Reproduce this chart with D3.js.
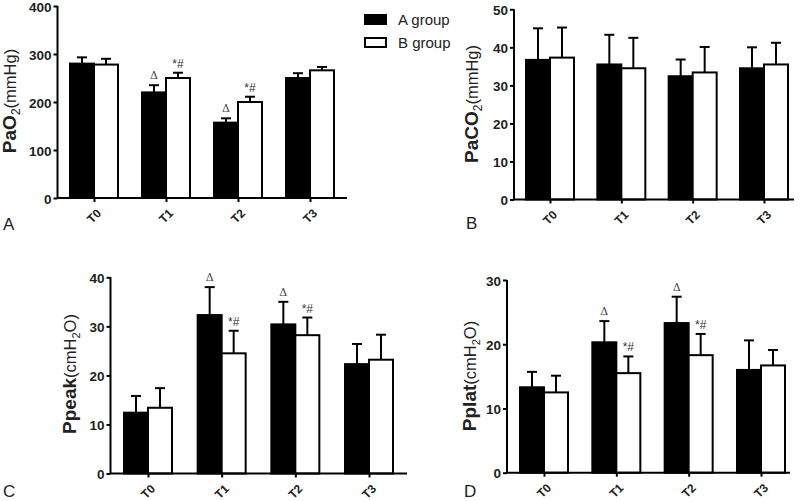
<!DOCTYPE html>
<html><head><meta charset="utf-8">
<script src="https://cdn.jsdelivr.net/npm/d3@7"></script>
<style>body{margin:0;background:#fff;} svg{display:block;font-family:Arial,"Liberation Sans",sans-serif;}</style>
</head><body>
<svg id="c" width="800" height="501"></svg>
<script>
const categories = ["T0","T1","T2","T3"];
const groups = ["A group","B group"];
// Panel A: PaO2
const pao2A = [280,220,157,250];
const pao2AErr = [293,235,166,260];
const pao2B = [278,250,200,266];
const pao2BErr = [290,261,211,273];
const pao2Ticks = [0,100,200,300,400];
// Panel B: PaCO2
const paco2A = [36.7,35.5,32.4,34.5];
const paco2AErr = [45,43.3,36.8,40];
const paco2B = [37.3,34.5,33.4,35.5];
const paco2BErr = [45.2,42.5,40.1,41.2];
const paco2Ticks = [0,10,20,30,40,50];
// Panel C: Ppeak
const ppeakA = [12.4,32.3,30.4,22.3];
const ppeakAErr = [15.8,38,35,26.4];
const ppeakB = [13.4,24.5,28.2,23.2];
const ppeakBErr = [17.4,29.1,31.8,28.3];
const ppeakTicks = [0,10,20,30,40];
// Panel D: Pplat
const pplatA = [13.3,20.3,23.3,16];
const pplatAErr = [15.7,23.6,27.4,20.6];
const pplatB = [12.5,15.5,18.3,16.7];
const pplatBErr = [15.1,18.1,21.6,19.1];
const pplatTicks = [0,10,20,30];
// significance marks
const markA = ["","Δ","Δ",""];
const markB = ["","*#","*#",""];
const noMark = ["","","",""];

const svg = d3.select("#c");

function panel(o){
  const g = svg.append("g");
  const y = d3.scaleLinear().domain([0, o.ymax]).range([o.y0, o.yTop]);
  const x = d3.scalePoint().domain(categories).range([o.c0, o.c3]);
  const bw = 24;
  categories.forEach((c,i)=>{
    const cx = x(c);
    [[o.a,o.ae,cx-bw/2],[o.b,o.be,cx+bw/2]].forEach(([v,e,ex])=>{
      g.append("line").attr("x1",ex).attr("x2",ex).attr("y1",y(v[i])).attr("y2",y(e[i]))
        .attr("stroke","#000").attr("stroke-width",2);
      g.append("line").attr("x1",ex-5).attr("x2",ex+5).attr("y1",y(e[i])).attr("y2",y(e[i]))
        .attr("stroke","#000").attr("stroke-width",2);
    });
    g.append("rect").attr("x",cx-bw).attr("y",y(o.a[i])).attr("width",bw).attr("height",y(0)-y(o.a[i]))
      .attr("fill","#000").attr("stroke","#000").attr("stroke-width",2);
    g.append("rect").attr("x",cx).attr("y",y(o.b[i])).attr("width",bw).attr("height",y(0)-y(o.b[i]))
      .attr("fill","#fff").attr("stroke","#000").attr("stroke-width",2);
    if(o.ma[i]) g.append("text").attr("x",cx-bw/2).attr("y",y(o.ae[i])-6).attr("text-anchor","middle")
      .attr("font-family","'DejaVu Serif',serif").attr("font-size",11).attr("fill","#444").text(o.ma[i]);
    if(o.mb[i]) g.append("text").attr("x",cx+bw/2).attr("y",y(o.be[i])-5).attr("text-anchor","middle")
      .attr("font-size",12).attr("fill","#333").text(o.mb[i]);
  });
  // y axis
  const ya = g.append("g").attr("transform",`translate(${o.x0},0)`)
    .call(d3.axisLeft(y).tickValues(o.ticks).tickSize(4).tickPadding(2).tickFormat(d3.format("d")));
  ya.select(".domain").attr("stroke-width",2).attr("d",`M0,${o.yTop}V${o.y0}`);
  ya.selectAll(".tick line").attr("stroke-width",2);
  ya.selectAll(".tick text").attr("font-size",13.5).attr("font-weight","bold").attr("fill","#222")
    .attr("dy","0.38em").attr("font-family","Arial,'Liberation Sans',sans-serif");
  // x axis
  const xa = g.append("g").attr("transform",`translate(0,${o.y0})`)
    .call(d3.axisBottom(x).tickSize(4).tickSizeOuter(0).tickFormat(""));
  xa.select(".domain").attr("stroke-width",2).attr("d",`M${o.x0},0H${o.xEnd}`);
  xa.selectAll(".tick line").attr("stroke-width",2);
  categories.forEach(c=>{
    g.append("text").attr("transform",`translate(${x(c)+5},${o.y0+13}) rotate(-45)`)
      .attr("text-anchor","end").attr("dy","0.35em")
      .attr("font-size",12).attr("font-weight","bold").attr("fill","#222").text(c);
  });
  // y title
  const t = g.append("text").attr("transform",`translate(${o.tx},${o.ty}) rotate(-90)`)
    .attr("text-anchor","middle").attr("fill","#222");
  t.append("tspan").attr("font-weight","bold").attr("font-size",19).text(o.t1);
  if(o.t2) t.append("tspan").attr("font-size",12).attr("dy",4).text(o.t2);
  t.append("tspan").attr("font-size",16.5).attr("dy",o.t2?-4:0).text(o.t3);
  if(o.t4){
    t.append("tspan").attr("font-size",11).attr("dy",4).text(o.t4);
    t.append("tspan").attr("font-size",16.5).attr("dy",-4).text(o.t5);
  }
  g.append("text").attr("x",o.lx).attr("y",o.ly).attr("font-size",17).attr("fill","#222").text(o.letter);
}

panel({a:pao2A,ae:pao2AErr,b:pao2B,be:pao2BErr,ticks:pao2Ticks,ymax:400,ma:markA,mb:markB,
  x0:57.5,xEnd:347,y0:198,yTop:6,c0:94,c3:310,tx:16,ty:101,
  t1:"PaO",t2:"2",t3:"(mmHg)",letter:"A",lx:3,ly:230});
panel({a:paco2A,ae:paco2AErr,b:paco2B,be:paco2BErr,ticks:paco2Ticks,ymax:50,ma:noMark,mb:noMark,
  x0:514,xEnd:794,y0:199.5,yTop:9.3,c0:550,c3:764,tx:478,ty:104,
  t1:"PaCO",t2:"2",t3:"(mmHg)",letter:"B",lx:466,ly:229});
panel({a:ppeakA,ae:ppeakAErr,b:ppeakB,be:ppeakBErr,ticks:ppeakTicks,ymax:40,ma:markA,mb:markB,
  x0:110.5,xEnd:407,y0:473.5,yTop:277.3,c0:148,c3:369,tx:76,ty:374,
  t1:"Ppeak",t2:"",t3:"(cmH",t4:"2",t5:"O)",letter:"C",lx:3,ly:497});
panel({a:pplatA,ae:pplatAErr,b:pplatB,be:pplatBErr,ticks:pplatTicks,ymax:30,ma:markA,mb:markB,
  x0:507,xEnd:790,y0:472.7,yTop:280,c0:544,c3:761,tx:476,ty:376,
  t1:"Pplat",t2:"",t3:"(cmH",t4:"2",t5:"O)",letter:"D",lx:464,ly:497});

const leg = svg.append("g");
groups.forEach((gname,i)=>{
  leg.append("rect").attr("x",365).attr("y",15+i*23).attr("width",21).attr("height",9)
    .attr("fill",i===0?"#000":"#fff").attr("stroke","#000").attr("stroke-width",2);
  leg.append("text").attr("x",398).attr("y",25+i*23).attr("font-size",15).attr("fill","#222").text(gname);
});
</script>
</body></html>
